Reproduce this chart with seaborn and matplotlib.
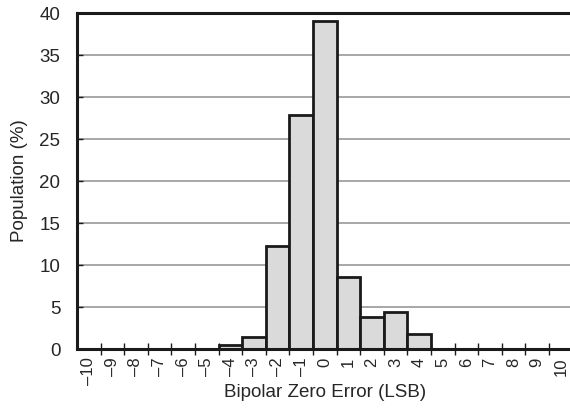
import numpy as np
import pandas as pd
import seaborn as sns
import matplotlib.pyplot as plt
from matplotlib.ticker import FixedLocator

### Histogram data
error_lsb = [-4, -3, -2, -1, 0, 1, 2, 3, 4]
population = [0.5, 1.4, 12.3, 27.9, 39.1, 8.6, 3.8, 4.4, 1.8]
tick_values = list(range(-10, 11))
tick_labels = [str(v).replace("-", "\u2013") for v in tick_values]

sns.set_style("white")
plt.rcParams["font.family"] = ["Liberation Sans", "DejaVu Sans"]

df = pd.DataFrame({"err": error_lsb, "pop": population})

fig = plt.figure(figsize=(5.7, 4.09), dpi=100)
ax = fig.add_axes([77 / 570, 60 / 409, (572.6 - 77) / 570, 336 / 409])

### Grid lines first, bars on top
for y in range(5, 40, 5):
    ax.axhline(y, color="#909090", lw=1.1, zorder=0)

sns.barplot(data=df, x="err", y="pop", native_scale=True, width=1,
            color="#dadada", edgecolor="#1a1a1a", linewidth=2.0,
            saturation=1, ax=ax, zorder=2)

ax.set_xlim(-10.5, 10.5)
ax.set_ylim(0, 40)

### Labels at bin centres, tick marks at bin edges
ax.set_xticks(tick_values)
ax.set_xticklabels(tick_labels, rotation=90, fontsize=12)
ax.tick_params(axis="x", which="major", length=0, pad=6)
ax.xaxis.set_minor_locator(FixedLocator(np.arange(-9.5, 10, 1.0)))
ax.tick_params(axis="x", which="minor", direction="inout", length=9,
               width=1.0, color="#1a1a1a", bottom=True)

ax.set_yticks(range(0, 41, 5))
ax.tick_params(axis="y", direction="in", length=4, width=1.0,
               color="#1a1a1a", left=True, pad=12, labelsize=13.5)

for side in ["left", "bottom", "top"]:
    ax.spines[side].set_visible(True)
    ax.spines[side].set_color("#1a1a1a")
    ax.spines[side].set_linewidth(2.2)
ax.spines["right"].set_visible(False)

ax.set_xlabel("Bipolar Zero Error (LSB)", fontsize=13.5)
ax.xaxis.set_label_coords(0.5, -0.105)
ax.set_ylabel("Population (%)", fontsize=13.5, labelpad=8)

fig.savefig("out.png", dpi=100)
